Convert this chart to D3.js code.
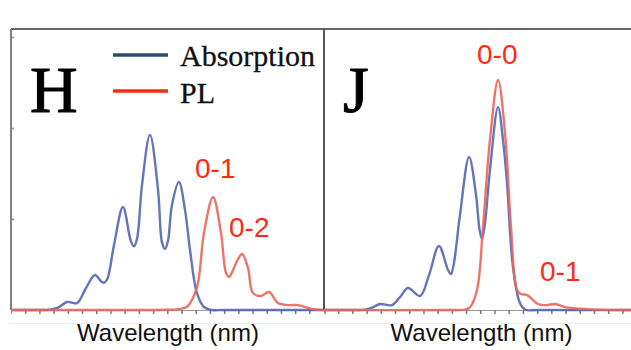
<!DOCTYPE html>
<html>
<head>
<meta charset="utf-8">
<script src="https://cdn.jsdelivr.net/npm/d3@7"></script>
<style>
  body { margin: 0; background: #fff; }
</style>
</head>
<body>
<div id="chart"></div>
<script>
// data: [wavelength (nm), normalised intensity]
const hAbsorption = [
  [450, 0], [470, 0], [477.4, 0.002], [483.1, 0.013], [489.4, 0.044], [496.5, 0.038], [502.8, 0.121],
  [509.1, 0.192], [513.3, 0.158], [515.5, 0.150], [517.8, 0.17], [522.5, 0.357], [528.8, 0.566],
  [534.4, 0.378], [536.6, 0.350], [538.8, 0.395],
  [542.2, 0.687], [547.8, 0.962], [553.5, 0.659], [556.3, 0.37], [558.4, 0.335], [560.5, 0.38],
  [563.3, 0.577], [568.2, 0.703], [572.5, 0.549], [576.0, 0.330], [580.9, 0.093], [586.0, 0.015],
  [591.5, 0], [600, 0], [671, 0]
];
const hPL = [
  [450, 0], [549.2, 0], [560, 0.001], [568.9, 0.006], [573.9, 0.018], [580.9, 0.126], [585.8, 0.423],
  [592.2, 0.621], [597.8, 0.423], [601.3, 0.205], [603.4, 0.181], [605.5, 0.205], [608.4, 0.258],
  [612.6, 0.308], [616.8, 0.231], [620.3, 0.093], [626.0, 0.077], [631.6, 0.099], [637.9, 0.038],
  [645.0, 0.027], [652.0, 0.027], [662.5, 0.005], [671, 0]
];
const jAbsorption = [
  [450, 0], [472, 0], [478.9, 0.002], [483.8, 0.013], [489.4, 0.033], [497.9, 0.027], [503.5, 0.071],
  [509.1, 0.121], [517.6, 0.077], [523.9, 0.192], [530.9, 0.352], [537.3, 0.22], [539.4, 0.198],
  [541.5, 0.26], [545.7, 0.522], [552.1, 0.841], [557.0, 0.632], [559.5, 0.44], [561.2, 0.390],
  [563.2, 0.47], [566.8, 0.769], [572.5, 1.115], [576.0, 0.934], [578.8, 0.698], [583.0, 0.236],
  [587.9, 0.038], [591.5, 0.002], [600, 0], [671, 0]
];
const jPL = [
  [450, 0], [540, 0], [549.2, 0.002], [552.8, 0.016], [557.7, 0.110], [561.9, 0.456], [566.8, 0.934],
  [572.5, 1.264], [577.4, 0.973], [581.6, 0.456], [585.8, 0.110], [588.6, 0.088],
  [592.9, 0.082], [600.6, 0.033], [606.2, 0.027], [612.6, 0.033], [619.6, 0.016],
  [635.1, 0.005], [671, 0]
];
const xTicks = d3.range(460, 661, 10);
const yTicks = [0.5, 1.0, 1.5];
const legendLabels = ["Absorption", "PL"];
const panelLabels = ["H", "J"];
const peakLabelsH = [{text: "0-1", x: 195, y: 178}, {text: "0-2", x: 229, y: 237}];
const peakLabelsJ = [{text: "0-0", x: 477, y: 64}, {text: "0-1", x: 540, y: 281}];

const W = 631, H = 350;
const plotTop = 29, plotBottom = 310;
const blue = "#5565b2", red = "#e8665a";

const svg = d3.select("#chart").append("svg")
    .attr("width", W)
    .attr("height", H);

const y = d3.scaleLinear().domain([0, 1.544]).range([plotBottom, plotTop]);

function panel(left, right, absData, plData, label, peaks, showYTicks) {
  const x = d3.scaleLinear().domain([450, 671]).range([left, right]);
  const g = svg.append("g");

  // faint line under the axis
  g.append("line")
    .attr("x1", left - 1).attr("x2", right)
    .attr("y1", 323.5).attr("y2", 323.5)
    .attr("stroke", "#ececec").attr("stroke-width", 1);

  // bottom axis ticks
  const xAxis = d3.axisBottom(x).tickValues(xTicks).tickSize(4).tickFormat("");
  const ax = g.append("g")
    .attr("transform", "translate(0," + plotBottom + ")")
    .call(xAxis);
  ax.select(".domain").attr("stroke", "#9a9a9a").attr("stroke-width", 1);
  ax.selectAll(".tick line").attr("stroke", "#777").attr("stroke-width", 1.5);

  if (showYTicks) {
    const yAxis = d3.axisRight(y).tickValues(yTicks).tickSize(3).tickFormat("");
    const ay = g.append("g")
      .attr("transform", "translate(" + left + ",0)")
      .call(yAxis);
    ay.select(".domain").remove();
    ay.selectAll(".tick line").attr("stroke", "#888").attr("stroke-width", 1.5);
  }

  // frame: top and left
  g.append("line")
    .attr("x1", left).attr("x2", right)
    .attr("y1", plotTop).attr("y2", plotTop)
    .attr("stroke", "#666").attr("stroke-width", 2.2);
  g.append("line")
    .attr("x1", left).attr("x2", left)
    .attr("y1", plotTop).attr("y2", plotBottom)
    .attr("stroke", showYTicks ? "#808080" : "#555").attr("stroke-width", 2);

  const line = d3.line()
    .x(d => x(d[0]))
    .y(d => Math.min(y(d[1]), plotBottom))
    .curve(d3.curveCatmullRom.alpha(0.5));

  g.append("path")
    .datum(absData)
    .attr("d", line)
    .attr("fill", "none")
    .attr("stroke", blue)
    .attr("stroke-width", 2.4)
    .attr("stroke-opacity", 0.9);

  g.append("path")
    .datum(plData)
    .attr("d", line)
    .attr("fill", "none")
    .attr("stroke", red)
    .attr("stroke-width", 2.4)
    .attr("stroke-opacity", 0.9);

  g.append("text")
    .attr("x", left + 19)
    .attr("y", 112)
    .attr("font-family", "Liberation Serif, Times New Roman, serif")
    .attr("font-size", 66)
    .attr("fill", "#000")
    .attr("stroke", "#000")
    .attr("stroke-width", 1)
    .text(label);

  g.selectAll(".peak")
    .data(peaks)
    .enter().append("text")
    .attr("class", "peak")
    .attr("x", d => d.x)
    .attr("y", d => d.y)
    .attr("font-family", "Liberation Sans, Arial, sans-serif")
    .attr("font-size", 28)
    .attr("fill", "#ff2a12")
    .text(d => d.text);

  g.append("text")
    .attr("x", (left + Math.min(right, W)) / 2 + (showYTicks ? 0 : 4))
    .attr("y", 341)
    .attr("text-anchor", "middle")
    .attr("font-family", "Liberation Sans, Arial, sans-serif")
    .attr("font-size", 24)
    .attr("fill", "#111")
    .text("Wavelength (nm)");
}

panel(11, 325, hAbsorption, hPL, panelLabels[0], peakLabelsH, true);
panel(324, 638, jAbsorption, jPL, panelLabels[1], peakLabelsJ, false);

// legend (left panel)
const legend = svg.append("g");
const legendColors = ["#2a4a78", "#ff2a12"];
legend.selectAll("line")
  .data(legendLabels)
  .enter().append("line")
  .attr("x1", 113).attr("x2", 168)
  .attr("y1", (d, i) => 55 + i * 36)
  .attr("y2", (d, i) => 55 + i * 36)
  .attr("stroke", (d, i) => legendColors[i])
  .attr("stroke-width", 3.5);
legend.selectAll("text")
  .data(legendLabels)
  .enter().append("text")
  .attr("x", 180)
  .attr("y", (d, i) => 66 + i * 37)
  .attr("font-family", "Liberation Serif, Times New Roman, serif")
  .attr("font-size", 30)
  .attr("fill", "#111")
  .attr("stroke", "#111")
  .attr("stroke-width", 0.3)
  .text(d => d);
</script>
</body>
</html>
